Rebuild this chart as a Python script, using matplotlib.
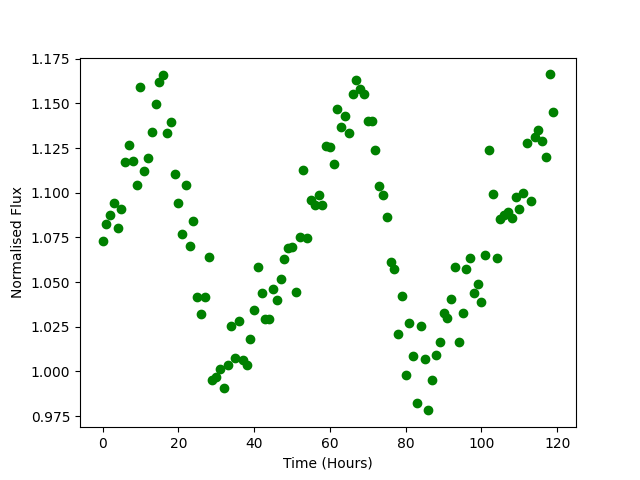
import numpy as np
import matplotlib
matplotlib.use('Agg')
import matplotlib.pyplot as plt

time_hours = np.arange(120)

flux = [1.0731, 1.0823, 1.0874, 1.0945, 1.0805, 1.0911, 1.1170, 1.1265, 1.1175, 1.1042,
        1.1590, 1.1119, 1.1192, 1.1338, 1.1496, 1.1619, 1.1656, 1.1333, 1.1396, 1.1102,
        1.0945, 1.0767, 1.1042, 1.0701, 1.0844, 1.0417, 1.0321, 1.0417, 1.0642, 0.9951,
        0.9971, 1.0014, 0.9906, 1.0035, 1.0254, 1.0076, 1.0282, 1.0065, 1.0035, 1.0181,
        1.0344, 1.0585, 1.0439, 1.0293, 1.0293, 1.0462, 1.0402, 1.0518, 1.0630, 1.0690,
        1.0698, 1.0447, 1.0754, 1.1125, 1.0748, 1.0958, 1.0930, 1.0986, 1.0934, 1.1260,
        1.1254, 1.1158, 1.1467, 1.1366, 1.1428, 1.1333, 1.1552, 1.1630, 1.1578, 1.1550,
        1.1402, 1.1402, 1.1237, 1.1037, 1.0990, 1.0866, 1.0613, 1.0574, 1.0209, 1.0422,
        0.9979, 1.0271, 1.0085, 0.9823, 1.0254, 1.0069, 0.9782, 0.9951, 1.0093, 1.0164,
        1.0327, 1.0299, 1.0407, 1.0585, 1.0164, 1.0327, 1.0574, 1.0636, 1.0439, 1.0490,
        1.0389, 1.0653, 1.1239, 1.0995, 1.0634, 1.0855, 1.0875, 1.0894, 1.0858, 1.0975,
        1.0911, 1.0997, 1.1276, 1.0956, 1.1310, 1.1350, 1.1290, 1.1200, 1.1662, 1.1450]

fig = plt.figure(figsize=(6.4, 4.8), dpi=100)
ax = fig.add_subplot(111)

ax.scatter(time_hours, flux, c='g')
ax.set_xlabel('Time (Hours)')
ax.set_ylabel('Normalised Flux')

plt.savefig('out.png')
